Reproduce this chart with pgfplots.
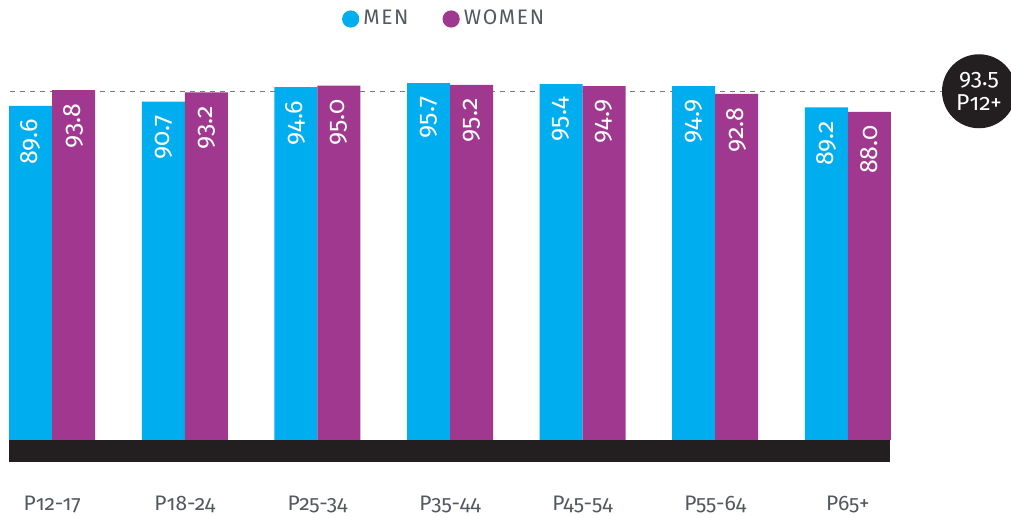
\documentclass[border=0pt]{standalone}
\usepackage{fontspec}
\setmainfont{Fira Sans}[Numbers=OldStyle]
\newfontfamily\legfont{Fira Sans}[LetterSpace=8]
\usepackage{pgfplots}
\pgfplotsset{compat=1.18}

\definecolor{menblue}{HTML}{00AEEF}
\definecolor{womenpurple}{HTML}{A1388F}
\definecolor{bandblack}{HTML}{231F20}
\definecolor{labelgray}{HTML}{54585F}
\definecolor{dashgray}{HTML}{7A7A7A}

\begin{document}
\begin{tikzpicture}
\begin{axis}[
  scale only axis, width=440.5pt, height=186.5pt,
  xmin=-0.326, xmax=6.318, ymin=0, ymax=100,
  clip=false,
  ybar=0pt, bar width=21.5pt,
  axis line style={draw=none}, tick style={draw=none},
  ytick=\empty,
  xtick=data,
  xticklabels={P12-17,P18-24,P25-34,P35-44,P45-54,P55-64,P65+},
  xticklabel style={font=\fontsize{10.5}{12}\selectfont, text=labelgray, yshift=-20pt},
  nodes near coords,
  /pgf/number format/fixed, /pgf/number format/fixed zerofill,
  /pgf/number format/precision=1, /pgf/number format/assume math mode=true,
  every node near coord/.append style={rotate=90, anchor=east, text=white,
    font=\fontsize{12.5}{14}\selectfont, inner xsep=6.5pt},
  legend style={draw=none, fill=none, at={(0.495,1)}, anchor=center, yshift=24pt,
    font=\legfont\fontsize{10.5}{12}\selectfont, text=labelgray,
    /tikz/every even column/.append style={column sep=15pt}},
  legend columns=2,
]
% reference line for all listeners
\coordinate (ref) at (axis cs:-0.326,93.5);
\draw[dashgray, dash pattern=on 2.5pt off 2.5pt, line width=0.5pt]
  ([xshift=0.5pt]ref) -- ([xshift=470pt]ref);

\addplot[fill=menblue, draw=none,
  legend image code/.code={\fill[menblue] (0pt,0pt) circle (4.3pt);}]
  coordinates {(0,89.6) (1,90.7) (2,94.6) (3,95.7) (4,95.4) (5,94.9) (6,89.2)};
\addlegendentry{MEN}
\addplot[fill=womenpurple, draw=none,
  legend image code/.code={\fill[womenpurple] (0pt,0pt) circle (4.3pt);}]
  coordinates {(0,93.8) (1,93.2) (2,95.0) (3,95.2) (4,94.9) (5,92.8) (6,88.0)};
\addlegendentry{WOMEN}

\fill[bandblack] (rel axis cs:0,0) rectangle ([yshift=-11pt]rel axis cs:1,0);
\fill[bandblack] ([xshift=485pt]ref) circle (18.5pt);
\node[text=white, align=center, font=\fontsize{11.5}{12.5}\selectfont]
  at ([xshift=485pt]ref) {93.5\\P12+};

\coordinate (bl) at ([xshift=-4.5pt, yshift=-38pt]rel axis cs:0,0);
\coordinate (tr) at ([xshift=501pt, yshift=220pt]rel axis cs:0,0);
\end{axis}
\pgfresetboundingbox
\path[use as bounding box] (bl) rectangle (tr);
\end{tikzpicture}
\end{document}
